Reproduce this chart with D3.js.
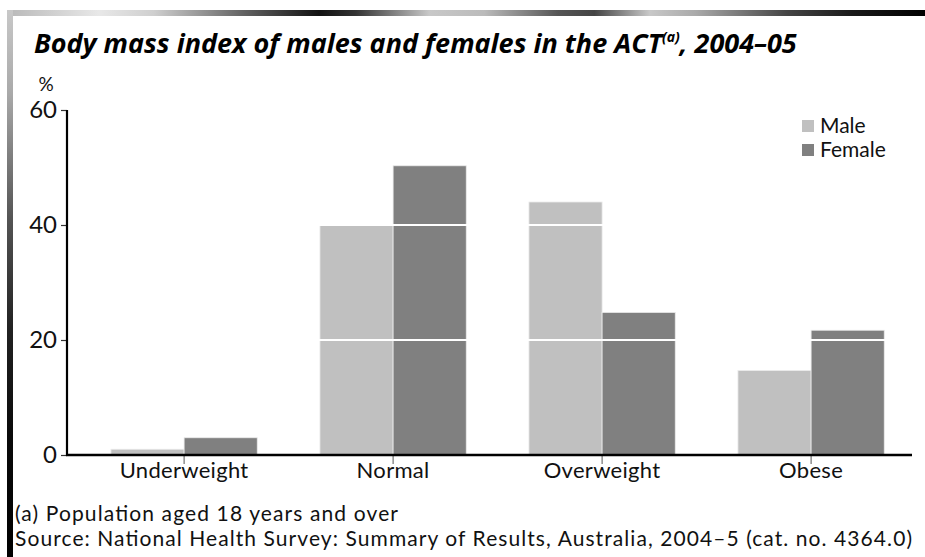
<!DOCTYPE html>
<html><head><meta charset="utf-8">
<script src="https://cdn.jsdelivr.net/npm/d3@7"></script>
<style>body{margin:0;background:#fff}svg{display:block}</style>
</head><body>
<svg id="c" width="925" height="557"></svg>
<script>
const categories = ["Underweight", "Normal", "Overweight", "Obese"];
const seriesNames = ["Male", "Female"];
const maleValues = [1.0, 40.0, 44.0, 14.7];
const femaleValues = [3.0, 50.3, 24.8, 21.7];
const yTicks = [0, 20, 40, 60];
const gridValues = [20, 40];
const colors = {Male: "#c0c0c0", Female: "#808080"};

const svg = d3.select("#c");
const titleFont = "'Open Sans', 'Noto Sans', sans-serif";
const font = "Lato, 'Open Sans', sans-serif";

// Decorative border gradients
const defs = svg.append("defs");
const gTop = defs.append("linearGradient").attr("id", "gt").attr("x1", 0).attr("x2", 1).attr("y1", 0).attr("y2", 0);
[[0, "#b8b8b8"], [0.05, "#d0d0d0"], [0.1, "#e8e8e8"], [0.16, "#cfcfcf"], [0.26, "#606060"], [0.34, "#111"], [0.38, "#333"], [0.46, "#c8c8c8"], [0.52, "#bbb"], [0.6, "#555"], [0.64, "#444"], [0.7, "#c8c8c8"], [0.75, "#aaa"], [0.85, "#444"], [0.92, "#1a1a1a"], [1, "#000"]]
  .forEach(([o, c]) => gTop.append("stop").attr("offset", o).attr("stop-color", c));
const gLeft = defs.append("linearGradient").attr("id", "gl").attr("x1", 0).attr("x2", 0).attr("y1", 0).attr("y2", 1);
[[0, "#c8c8c8"], [0.15, "#aaa"], [0.38, "#555"], [0.58, "#222"], [0.78, "#0a0a0a"], [1, "#000"]]
  .forEach(([o, c]) => gLeft.append("stop").attr("offset", o).attr("stop-color", c));
svg.append("rect").attr("x", 7).attr("y", 10).attr("width", 918).attr("height", 6).attr("fill", "url(#gt)");
svg.append("rect").attr("x", 7).attr("y", 10).attr("width", 6).attr("height", 547).attr("fill", "url(#gl)");

// Title
const title = svg.append("text").attr("x", 34).attr("y", 53)
  .attr("font-family", titleFont).attr("font-weight", "bold").attr("font-style", "italic")
  .attr("font-size", 27).attr("fill", "#000");
title.append("tspan").text("Body mass index of males and females in the ACT");
title.append("tspan").attr("font-size", 14).attr("dy", -11).text("(a)");
title.append("tspan").attr("dy", 11).text(", 2004–05");

// Scales
const y = d3.scaleLinear().domain([0, 60]).range([455, 110]);
const x = d3.scaleBand().domain(categories).range([79.6, 915.6]).paddingInner(0.3).paddingOuter(0.15);
const xs = d3.scaleBand().domain(seriesNames).range([0, x.bandwidth()]);

const data = categories.map((c, i) => ({cat: c, Male: maleValues[i], Female: femaleValues[i]}));

// Bars
const groups = svg.append("g").selectAll("g").data(data).join("g")
  .attr("transform", d => `translate(${x(d.cat)},0)`);
groups.selectAll("rect").data(d => seriesNames.map(s => ({s, v: d[s]}))).join("rect")
  .attr("x", d => xs(d.s)).attr("width", xs.bandwidth())
  .attr("y", d => y(d.v)).attr("height", d => y(0) - y(d.v))
  .attr("fill", d => colors[d.s]).attr("stroke", "#ececec").attr("stroke-width", 0.8);

// White gridlines over bars
svg.append("g").selectAll("line").data(gridValues).join("line")
  .attr("x1", 68).attr("x2", 912).attr("y1", d => y(d)).attr("y2", d => y(d))
  .attr("stroke", "#fff").attr("stroke-width", 2);

// Y axis
const yAxis = svg.append("g").attr("transform", "translate(67,0)")
  .call(d3.axisLeft(y).tickValues(yTicks).tickSize(6).tickPadding(4).tickFormat(d3.format("d")));
yAxis.select(".domain").remove();
yAxis.selectAll(".tick line").attr("stroke", "#333").attr("stroke-width", 1.2);
yAxis.selectAll("text").attr("font-family", font).attr("font-size", 24).attr("fill", "#111");
svg.append("line").attr("x1", 67).attr("x2", 67).attr("y1", y(60)).attr("y2", y(0) + 1)
  .attr("stroke", "#000").attr("stroke-width", 2.2);
svg.append("text").attr("x", 46).attr("y", 91).attr("text-anchor", "middle")
  .attr("font-family", font).attr("font-size", 19).attr("fill", "#111").text("%");

// X axis
const xAxis = svg.append("g").attr("transform", `translate(0,${y(0)})`)
  .call(d3.axisBottom(x).tickSize(9).tickPadding(-2));
xAxis.select(".domain").remove();
xAxis.selectAll(".tick line").attr("stroke", "#555").attr("stroke-width", 1);
xAxis.selectAll("text").attr("font-family", font).attr("font-size", 22).attr("fill", "#111")
  .attr("letter-spacing", 0.3);
svg.append("line").attr("x1", 66).attr("x2", 912).attr("y1", y(0)).attr("y2", y(0))
  .attr("stroke", "#000").attr("stroke-width", 2.4);

// Legend
const leg = svg.append("g").selectAll("g").data(seriesNames).join("g")
  .attr("transform", (d, i) => `translate(802,${120 + i * 24})`);
leg.append("rect").attr("width", 12).attr("height", 12).attr("fill", d => colors[d]);
leg.append("text").attr("x", 18).attr("y", 6).attr("dy", "0.35em")
  .attr("font-family", font).attr("font-size", 21).attr("fill", "#111").text(d => d);

// Footnotes
svg.append("text").attr("x", 15).attr("y", 521).attr("font-family", font).attr("font-size", 21).attr("fill", "#111")
  .attr("textLength", 383).attr("lengthAdjust", "spacing")
  .text("(a) Population aged 18 years and over");
svg.append("text").attr("x", 15).attr("y", 546).attr("font-family", font).attr("font-size", 21).attr("fill", "#111")
  .attr("textLength", 897).attr("lengthAdjust", "spacing")
  .text("Source: National Health Survey: Summary of Results, Australia, 2004–5 (cat. no. 4364.0)");
</script>
</body></html>
